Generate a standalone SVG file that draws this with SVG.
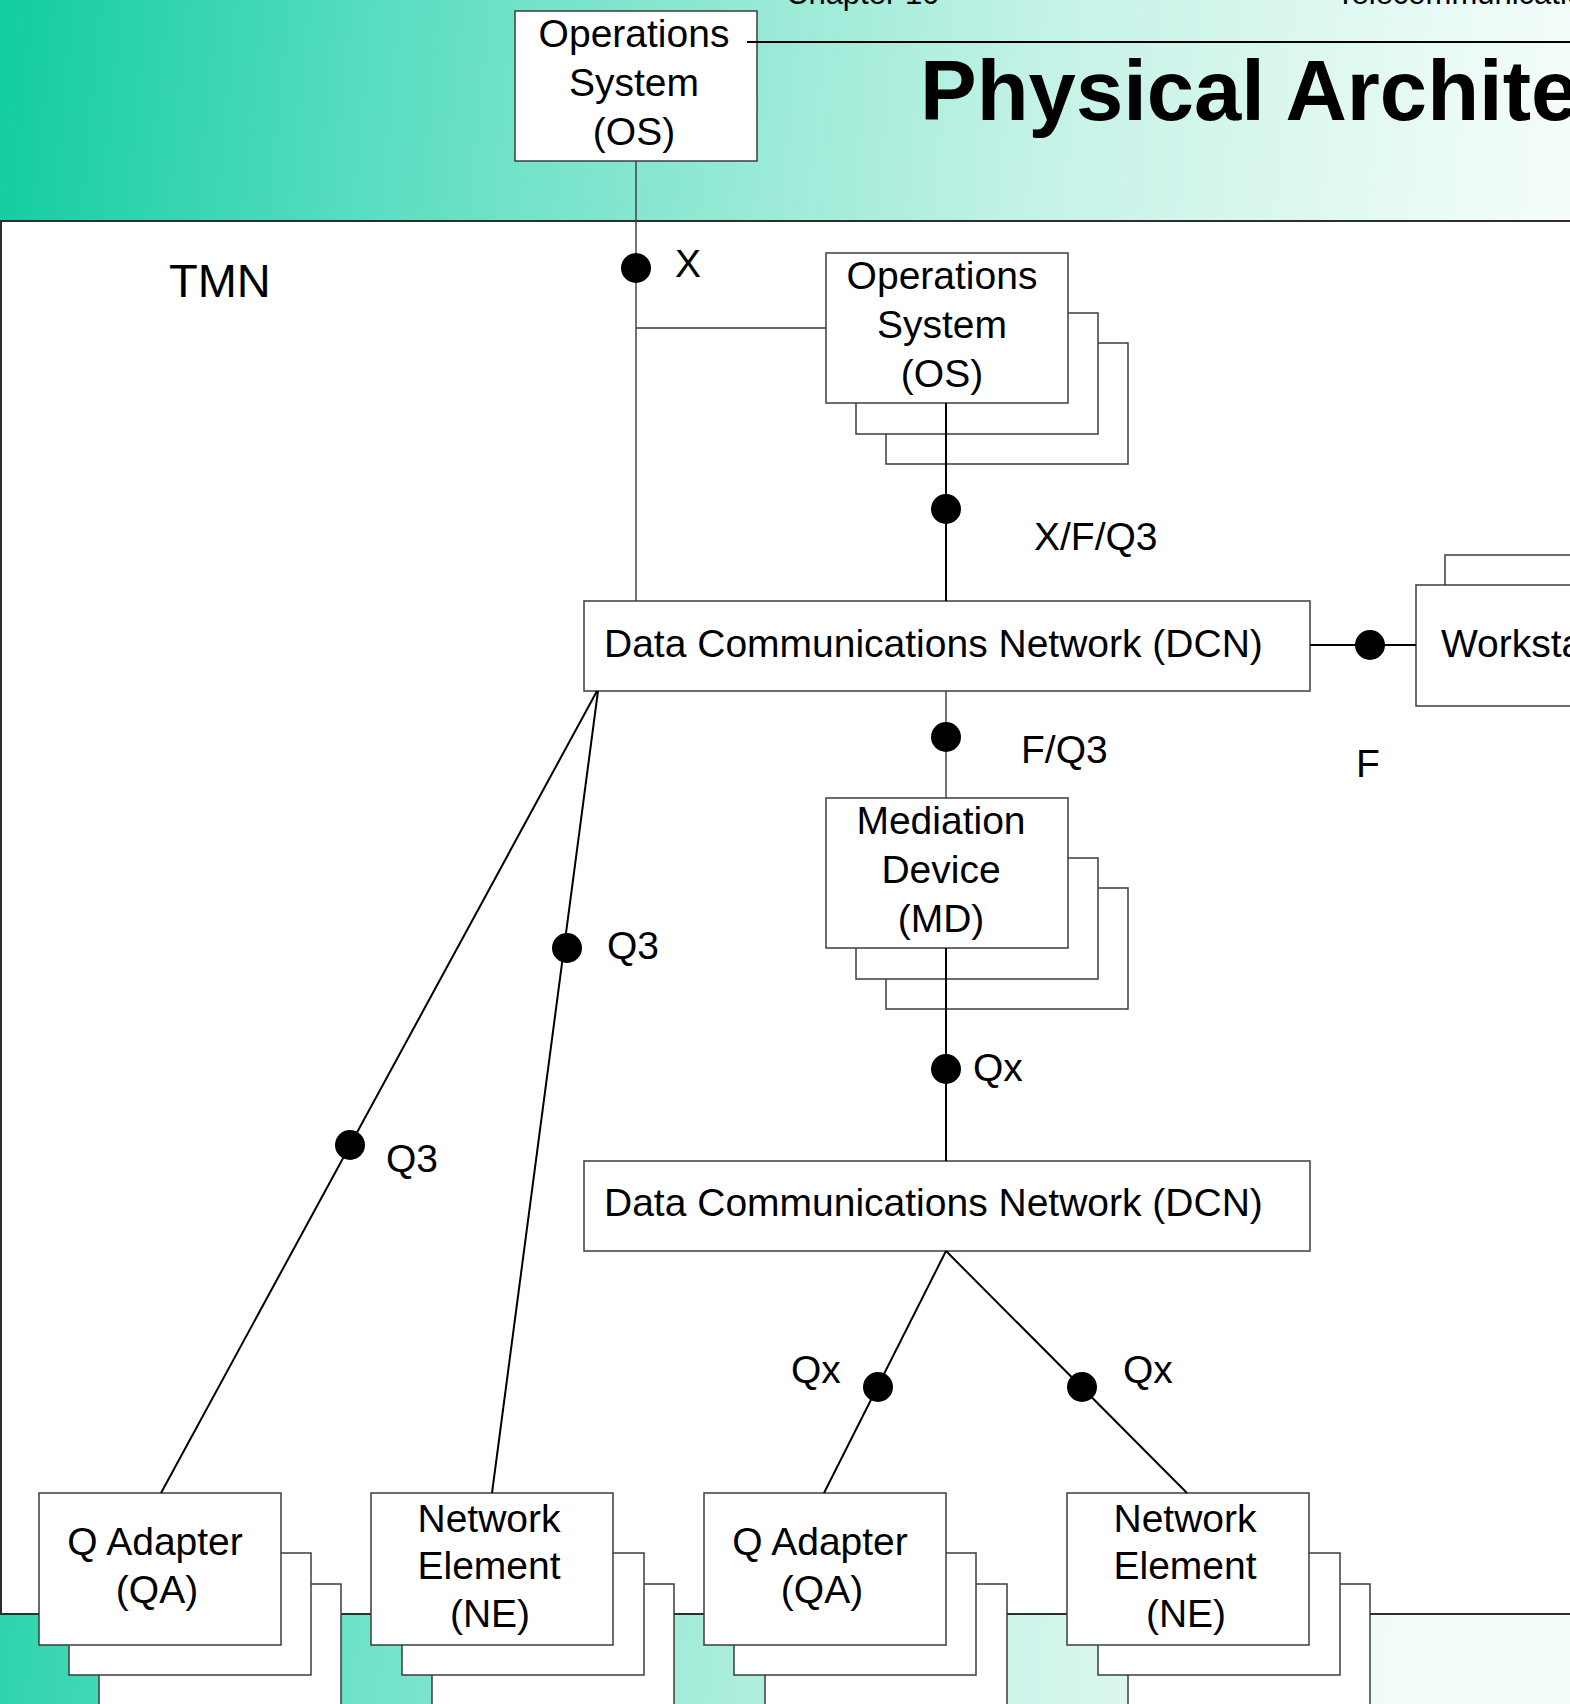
<svg xmlns="http://www.w3.org/2000/svg" width="1570" height="1704" viewBox="0 0 1570 1704">
  <defs>
    <linearGradient id="bg" gradientUnits="userSpaceOnUse" x1="0" y1="0" x2="1570" y2="150">
      <stop offset="0" stop-color="#12cd9e"/>
      <stop offset="0.25" stop-color="#5bdec1"/>
      <stop offset="0.45" stop-color="#8fe8d3"/>
      <stop offset="0.66" stop-color="#c3f2e6"/>
      <stop offset="1" stop-color="#f5fdfb"/>
    </linearGradient>
    <style>
      .box { fill: #ffffff; stroke: #3c3c3c; stroke-width: 1.5; }
      .frame { fill: #ffffff; stroke: #2e2e2e; stroke-width: 2; }
      .t { font-family: "Liberation Sans", Arial, Helvetica, sans-serif; font-size: 39px; fill: #000000; }
      .c { text-anchor: middle; }
      .wire { stroke: #000000; stroke-width: 2; fill: none; }
      .thin { stroke: #3a3a3a; stroke-width: 1.4; fill: none; }
      .dot { fill: #000000; }
    </style>
  </defs>

  <!-- page background -->
  <rect x="0" y="0" width="1570" height="1704" fill="url(#bg)"/>

  <!-- running header and title -->
  <text class="t" x="786" y="4" style="font-size:31px">Chapter 10</text>
  <text class="t" x="1336" y="4" style="font-size:31px">Telecommunications</text>
  <text class="t" x="920" y="120" style="font-size:85px;font-weight:bold">Physical Architecture</text>

  <!-- TMN domain frame -->
  <g id="tmn-frame">
    <rect class="frame" x="1" y="221" width="1590" height="1393"/>
    <text class="t" x="169" y="297" style="font-size:47px">TMN</text>
  </g>

  <!-- external operations system -->
  <g id="os-external">
    <rect class="box" x="515" y="11" width="242" height="150"/>
    <text class="t c" x="634" y="47">Operations</text>
    <text class="t c" x="634" y="96">System</text>
    <text class="t c" x="634" y="145">(OS)</text>
  </g>

  <!-- operations systems (stacked) -->
  <g id="os-internal">
    <rect class="box" x="886" y="343" width="242" height="121"/>
    <rect class="box" x="856" y="313" width="242" height="121"/>
    <rect class="box" x="826" y="253" width="242" height="150"/>
    <text class="t c" x="942" y="289">Operations</text>
    <text class="t c" x="942" y="338">System</text>
    <text class="t c" x="942" y="387">(OS)</text>
  </g>

  <!-- upper data communications network -->
  <g id="dcn-upper">
    <rect class="box" x="584" y="601" width="726" height="90"/>
    <text class="t" x="604" y="657">Data Communications Network (DCN)</text>
  </g>

  <!-- workstations (stacked) -->
  <g id="workstation">
    <rect class="box" x="1445" y="555" width="200" height="121"/>
    <rect class="box" x="1416" y="585" width="200" height="121"/>
    <text class="t" x="1441" y="657">Workstation</text>
  </g>

  <!-- mediation devices (stacked) -->
  <g id="mediation-device">
    <rect class="box" x="886" y="888" width="242" height="121"/>
    <rect class="box" x="856" y="858" width="242" height="121"/>
    <rect class="box" x="826" y="798" width="242" height="150"/>
    <text class="t c" x="941" y="834">Mediation</text>
    <text class="t c" x="941" y="883">Device</text>
    <text class="t c" x="941" y="932">(MD)</text>
  </g>

  <!-- lower data communications network -->
  <g id="dcn-lower">
    <rect class="box" x="584" y="1161" width="726" height="90"/>
    <text class="t" x="604" y="1216">Data Communications Network (DCN)</text>
  </g>

  <!-- bottom row: Q adapters and network elements (stacked) -->
  <g id="qa-left">
    <rect class="box" x="99" y="1584" width="242" height="140"/>
    <rect class="box" x="69" y="1553" width="242" height="122"/>
    <rect class="box" x="39" y="1493" width="242" height="152"/>
    <text class="t c" x="155" y="1555">Q Adapter</text>
    <text class="t c" x="157" y="1603">(QA)</text>
  </g>
  <g id="ne-left">
    <rect class="box" x="432" y="1584" width="242" height="140"/>
    <rect class="box" x="402" y="1553" width="242" height="122"/>
    <rect class="box" x="371" y="1493" width="242" height="152"/>
    <text class="t c" x="489" y="1532">Network</text>
    <text class="t c" x="489" y="1579">Element</text>
    <text class="t c" x="490" y="1627">(NE)</text>
  </g>
  <g id="qa-right">
    <rect class="box" x="765" y="1584" width="242" height="140"/>
    <rect class="box" x="734" y="1553" width="242" height="122"/>
    <rect class="box" x="704" y="1493" width="242" height="152"/>
    <text class="t c" x="820" y="1555">Q Adapter</text>
    <text class="t c" x="822" y="1603">(QA)</text>
  </g>
  <g id="ne-right">
    <rect class="box" x="1128" y="1584" width="242" height="140"/>
    <rect class="box" x="1098" y="1553" width="242" height="122"/>
    <rect class="box" x="1067" y="1493" width="242" height="152"/>
    <text class="t c" x="1185" y="1532">Network</text>
    <text class="t c" x="1185" y="1579">Element</text>
    <text class="t c" x="1186" y="1627">(NE)</text>
  </g>

  <!-- connectors with reference-point dots and interface labels -->
  <g id="connectors">
    <line x1="747" y1="42" x2="1570" y2="42" stroke="#000" stroke-width="2"/>

    <line class="thin" x1="636" y1="161" x2="636" y2="601"/>
    <line class="thin" x1="636" y1="328" x2="826" y2="328"/>
    <circle class="dot" cx="636" cy="268" r="15"/>
    <text class="t" x="675" y="277">X</text>

    <line class="wire" x1="946" y1="403" x2="946" y2="601"/>
    <circle class="dot" cx="946" cy="509" r="15"/>
    <text class="t" x="1034" y="550">X/F/Q3</text>

    <line class="wire" x1="1310" y1="645" x2="1416" y2="645"/>
    <circle class="dot" cx="1370" cy="645" r="15"/>
    <text class="t" x="1356" y="777">F</text>

    <line class="thin" x1="946" y1="691" x2="946" y2="798"/>
    <circle class="dot" cx="946" cy="737" r="15"/>
    <text class="t" x="1021" y="763">F/Q3</text>

    <line class="wire" x1="597" y1="691" x2="161" y2="1493"/>
    <circle class="dot" cx="350" cy="1145" r="15"/>
    <text class="t" x="386" y="1172">Q3</text>

    <line class="wire" x1="598" y1="691" x2="492" y2="1493"/>
    <circle class="dot" cx="567" cy="948" r="15"/>
    <text class="t" x="607" y="959">Q3</text>

    <line class="wire" x1="946" y1="948" x2="946" y2="1161"/>
    <circle class="dot" cx="946" cy="1069" r="15"/>
    <text class="t" x="973" y="1081">Qx</text>

    <line class="wire" x1="946" y1="1251" x2="824" y2="1493"/>
    <circle class="dot" cx="878" cy="1387" r="15"/>
    <text class="t" x="791" y="1383">Qx</text>

    <line class="wire" x1="946" y1="1251" x2="1187" y2="1493"/>
    <circle class="dot" cx="1082" cy="1387" r="15"/>
    <text class="t" x="1123" y="1383">Qx</text>
  </g>
</svg>
